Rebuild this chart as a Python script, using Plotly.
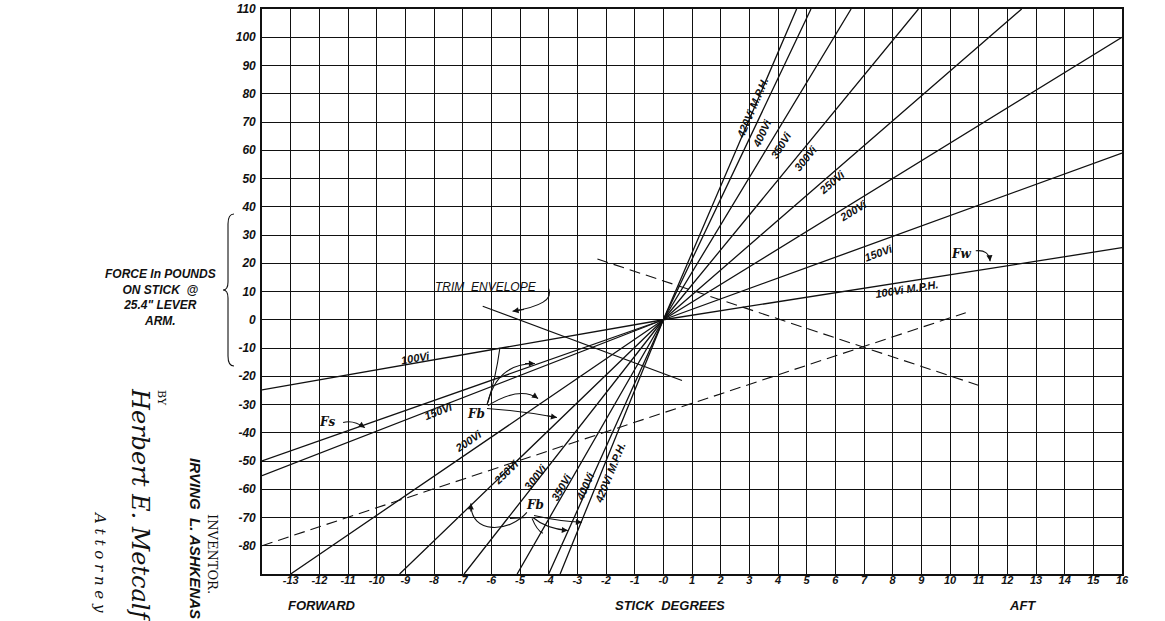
import math
import plotly.graph_objects as go

# ---------------- data ----------------
x_range = [-14, 16]
y_range = [-90, 110]
x_tick_vals = list(range(-13, 17))
x_tick_text = ["-13", "-12", "-11", "-10", "-9", "-8", "-7", "-6", "-5", "-4", "-3", "-2", "-1", "-0",
               "1", "2", "3", "4", "5", "6", "7", "8", "9", "10", "11", "12", "13", "14", "15", "16"]
y_tick_vals = [110, 100, 90, 80, 70, 60, 50, 40, 30, 20, 10, 0, -10, -20, -30, -40, -50, -60, -70, -80]
y_tick_text = ["110", "100", "90", "80", "70", "60", "50", "40", "30", "20", "10", "0",
               "-10", "-20", "-30", "-40", "-50", "-60", "-70", "-80"]

speeds = ["100", "150", "200", "250", "300", "350", "400", "420"]
pivot_x = 0.0
pivot_y = 0.0
fwd_end_x = [-14, -14, -13.0, -9.2, -6.95, -5.1, -4.0, -3.6]
fwd_end_y = [-24.8, -55.2, -90, -90, -90, -90, -90, -90]
aft_end_x = [16, 16, 16, 12.5, 8.9, 6.55, 5.15, 4.65]
aft_end_y = [25.5, 59, 100, 110, 110, 110, 110, 110]

fs_x = [-14, 0.0]
fs_y = [-50, 0.0]
trim_x = [-6.3, 0.65]
trim_y = [4.8, -21.5]
dash_up_x = [-14, 10.55]
dash_up_y = [-80, 2.5]
dash_down_x = [-2.3, 11.2]
dash_down_y = [21.5, -23.9]

aft_labels = ["100Vi M.P.H.", "150Vi", "200Vi", "250Vi", "300Vi", "350Vi", "400Vi", "420Vi M.P.H."]
aft_label_x = [8.5, 7.5, 6.6, 5.9, 4.97, 4.1, 3.45, 3.1]
aft_label_y = [11.0, 23.7, 38.6, 48.6, 57.2, 62.0, 66.0, 75.0]
fwd_labels = ["100Vi", "150Vi", "200Vi", "250Vi", "300Vi", "350Vi", "400Vi", "420Vi M.P.H."]
fwd_label_x = [-8.65, -7.83, -6.8, -5.48, -4.46, -3.55, -2.72, -1.86]
fwd_label_y = [-13.7, -32.4, -42.8, -53.9, -55.7, -59.3, -58.9, -54.3]

# ---------------- layout geometry ----------------
W, H = 1165, 621
PL, PR, PT, PB = 262, 1122, 9, 574  # target plot box in window pixels
ML, MT = PL, PT
MR = W - PR
MB = H - PB
PW, PH = PR - PL, PB - PT
kx = PW / (x_range[1] - x_range[0])
ky = PH / (y_range[1] - y_range[0])


def px2paper(px, py):
    return (px - PL) / PW, (PB - py) / PH


def seg_angle(x0, y0, x1, y1):
    return -math.degrees(math.atan2((y1 - y0) * ky, (x1 - x0) * kx))


hand = "Liberation Sans Narrow, Liberation Sans, Arial"
BLACK = "#111111"

fig = go.Figure()

for i, s in enumerate(speeds):
    fig.add_trace(go.Scatter(
        x=[fwd_end_x[i], pivot_x, aft_end_x[i]],
        y=[fwd_end_y[i], pivot_y, aft_end_y[i]],
        mode="lines", line=dict(color=BLACK, width=1.3),
        name=s + " Vi", showlegend=False, hoverinfo="skip"))

fig.add_trace(go.Scatter(x=fs_x, y=fs_y, mode="lines", line=dict(color=BLACK, width=1.3),
                         showlegend=False, hoverinfo="skip"))
fig.add_trace(go.Scatter(x=trim_x, y=trim_y, mode="lines", line=dict(color=BLACK, width=1.2),
                         showlegend=False, hoverinfo="skip"))
for dx, dy in [(dash_up_x, dash_up_y), (dash_down_x, dash_down_y)]:
    fig.add_trace(go.Scatter(x=dx, y=dy, mode="lines",
                             line=dict(color=BLACK, width=1.1, dash="11px,6px"),
                             showlegend=False, hoverinfo="skip"))

annotations = []
lab_font = dict(family=hand, size=11, color=BLACK, style="italic", weight="bold")

for i in range(len(speeds)):
    ang = seg_angle(pivot_x, pivot_y, aft_end_x[i], aft_end_y[i])
    annotations.append(dict(x=aft_label_x[i], y=aft_label_y[i], xref="x", yref="y",
                            xanchor="center", yanchor="middle",
                            text=aft_labels[i], showarrow=False, textangle=ang, font=lab_font))
    ang = seg_angle(fwd_end_x[i], fwd_end_y[i], pivot_x, pivot_y)
    annotations.append(dict(x=fwd_label_x[i], y=fwd_label_y[i], xref="x", yref="y",
                            xanchor="center", yanchor="middle",
                            text=fwd_labels[i], showarrow=False, textangle=ang, font=lab_font))

for txt, lx, ly in [("Fs", -11.7, -36.3), ("Fb", -6.55, -33.2), ("Fb", -4.46, -65.4), ("Fw", 10.4, 23.3)]:
    annotations.append(dict(x=lx, y=ly, xref="x", yref="y", text=txt, showarrow=False,
                            xanchor="center", yanchor="middle",
                            font=dict(family="DejaVu Serif", size=12, color=BLACK, style="italic",
                                      weight="bold")))

annotations.append(dict(x=-6.2, y=11.7, xref="x", yref="y", text="TRIM  ENVELOPE", showarrow=False,
                        xanchor="center", yanchor="middle",
                        font=dict(family=hand, size=12, color=BLACK, style="italic")))

curves = [
    ([(-6.15, -30.0), (-5.85, -21.0), (-5.70, -9.9)], False),
    ([(-6.12, -29.3), (-5.80, -15.5), (-4.48, -15.5)], True),
    ([(-6.12, -30.4), (-5.0, -23.3), (-4.37, -27.9)], True),
    ([(-6.15, -31.4), (-5.0, -32.2), (-3.71, -34.6)], True),
    ([(-4.76, -68.2), (-5.35, -75.3), (-6.74, -76.3), (-6.71, -65.0)], True),
    ([(-4.76, -70.0), (-5.05, -70.2), (-5.35, -70.3)], True),
    ([(-4.58, -70.3), (-4.41, -74.6), (-4.20, -75.6)], True),
    ([(-4.55, -70.0), (-4.1, -73.9), (-3.33, -74.6)], True),
    ([(-4.51, -69.3), (-3.6, -71.4), (-2.84, -71.7)], True),
    ([(-11.17, -36.4), (-10.83, -35.3), (-10.41, -38.2)], True),
    ([(10.9, 24.4), (11.35, 25.0), (11.4, 20.7)], True),
    ([(-4.0, 11.0), (-3.76, 5.5), (-5.26, 3.0)], True),
]
shapes = []
for pts, head in curves:
    if len(pts) == 3:
        p = "M {},{} Q {},{} {},{}".format(*[v for pt in pts for v in pt])
    else:
        p = "M {},{} C {},{} {},{} {},{}".format(*[v for pt in pts for v in pt])
    shapes.append(dict(type="path", path=p, xref="x", yref="y",
                       line=dict(color=BLACK, width=1.1)))
    if head:
        (ex, ey), (cx, cy) = pts[-1], pts[-2]
        annotations.append(dict(x=ex, y=ey, ax=ex + 0.3 * (cx - ex), ay=ey + 0.3 * (cy - ey),
                                xref="x", yref="y", axref="x", ayref="y", text="",
                                showarrow=True, arrowhead=2, arrowsize=1.1, arrowwidth=1.1,
                                arrowcolor=BLACK, standoff=0))

for txt, px in [("FORWARD", 322), ("STICK  DEGREES", 670), ("AFT", 1022)]:
    xp, yp = px2paper(px, 605)
    annotations.append(dict(x=xp, y=yp, xref="paper", yref="paper", text=txt, showarrow=False,
                            xanchor="center", yanchor="middle",
                            font=dict(family=hand, size=13, color=BLACK, style="italic",
                                      weight="bold")))

xp, yp = px2paper(160, 297)
annotations.append(dict(x=xp, y=yp, xref="paper", yref="paper",
                        text="FORCE In POUNDS<br>ON STICK  @<br>25.4\" LEVER<br>ARM.",
                        showarrow=False, align="center", xanchor="center", yanchor="middle",
                        font=dict(family=hand, size=12, color=BLACK, style="italic", weight="bold")))


def P(px, py):
    a, b = px2paper(px, py)
    return "{:.5f},{:.5f}".format(a, b)


brace = ("M " + P(234, 214) + " Q " + P(228, 214) + " " + P(228, 224) + " L " + P(228, 282) +
         " Q " + P(228, 290) + " " + P(223, 290) + " Q " + P(228, 290) + " " + P(228, 298) +
         " L " + P(228, 356) + " Q " + P(228, 366) + " " + P(234, 366))
shapes.append(dict(type="path", path=brace, xref="paper", yref="paper",
                   line=dict(color=BLACK, width=1.1)))

side = [
    ("INVENTOR.", 213, 554, dict(family="DejaVu Serif", size=13, color=BLACK)),
    ("IRVING  L. ASHKENAS", 196, 538, dict(family=hand, size=15, color=BLACK, style="italic",
                                           weight="bold")),
    ("BY", 162, 398, dict(family="DejaVu Serif", size=11, color=BLACK)),
    ("Herbert E. Metcalf", 140, 506, dict(family="DejaVu Serif", size=24, color=BLACK,
                                          style="italic")),
    ("A t t o r n e y", 100, 562, dict(family="DejaVu Serif", size=15, color=BLACK,
                                       style="italic")),
]
for txt, px, py, f in side:
    a, b = px2paper(px, py)
    annotations.append(dict(x=a, y=b, xref="paper", yref="paper", text=txt, showarrow=False,
                            xanchor="center", yanchor="middle", textangle=90, font=f))

tick_font = dict(family=hand, size=12, color=BLACK, style="italic", weight="bold")
fig.update_layout(
    width=W, height=H,
    margin=dict(l=ML, r=MR, t=MT, b=MB, pad=0, autoexpand=False),
    paper_bgcolor="white", plot_bgcolor="white",
    showlegend=False,
    xaxis=dict(range=x_range, tickvals=x_tick_vals, ticktext=x_tick_text, showgrid=True,
               gridcolor=BLACK, gridwidth=1.2, zeroline=False, showline=True, mirror=True,
               linecolor=BLACK, linewidth=1.6, ticks="", tickfont=dict(tick_font, size=11),
               ticklabelstandoff=-5, ticklabeloverflow="allow", automargin=False),
    yaxis=dict(range=y_range, tickvals=y_tick_vals, ticktext=y_tick_text, showgrid=True,
               gridcolor=BLACK, gridwidth=1.2, zeroline=False, showline=True, mirror=True,
               linecolor=BLACK, linewidth=1.6, ticks="", tickfont=tick_font,
               ticklabelstandoff=2, ticklabeloverflow="allow", automargin=False),
    annotations=annotations,
    shapes=shapes,
)

fig.write_html("out.html", config={"displayModeBar": False},
               post_script="document.body.style.margin='0';")
